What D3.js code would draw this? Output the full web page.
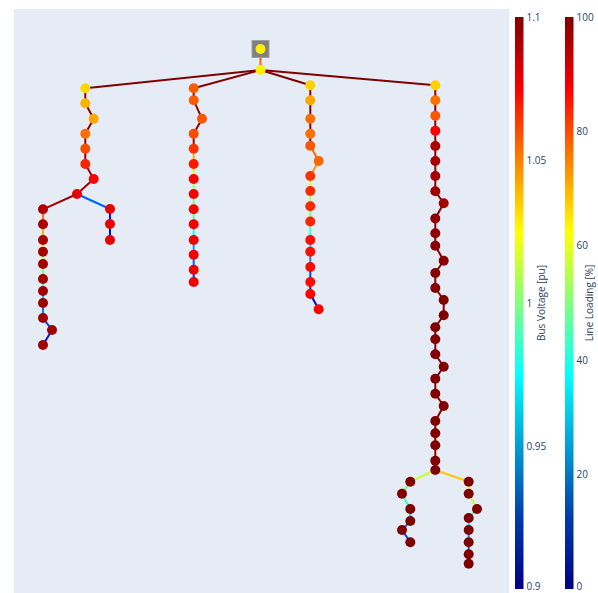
<!DOCTYPE html>
<html>
<head>
<meta charset="utf-8">
<script src="https://cdn.jsdelivr.net/npm/d3@7"></script>
<style>
  html, body { margin: 0; padding: 0; background: #fff; }
  svg { display: block; }
  text { font-family: "Open Sans", sans-serif; fill: #2a3f5f; }
</style>
</head>
<body>
<svg id="chart" width="598" height="593"></svg>
<script>
// Bus geodata (network units) and bus voltages [pu]
const busX = [
  21.75, 21.75,
  4.23, 4.23, 5.07, 4.23, 4.23, 4.23, 5.07, 3.4,
  0, 0, 0, 0, 0, 0, 0, 0, 0, 0.9, 0,
  6.7, 6.7, 6.7,
  15.07, 15.07, 15.9, 15.07, 15.07, 15.07, 15.07, 15.07, 15.07, 15.07, 15.07, 15.07, 15.07, 15.07,
  26.73, 26.73, 26.73, 26.73, 26.73, 27.57, 26.73, 26.73, 26.73, 26.73, 26.73, 26.73, 26.73, 26.73, 26.73, 27.57,
  39.23, 39.23, 39.23, 39.23, 39.23, 39.23, 39.23, 39.23, 40.07, 39.23, 39.23, 39.23, 40.07, 39.23, 39.23,
  40.07, 40.07, 39.23, 39.23, 39.23, 40.07, 39.23, 39.23, 40.07, 39.23, 39.23, 39.23, 39.23, 39.23,
  36.73, 35.9, 36.73, 36.73, 35.9, 36.73,
  42.57, 42.57, 43.4, 42.57, 42.57, 42.57, 42.57, 42.57
];
const busY = [
  0, 2.1,
  3.93, 5.43, 6.97, 8.47, 9.97, 11.5, 13.0, 14.5,
  16.03, 17.53, 19.1, 20.27, 21.5, 23.0, 24.2, 25.4, 26.9, 28.1, 29.6,
  16.0, 17.5, 19.1,
  3.93, 5.13, 6.97, 8.47, 9.97, 11.5, 13.0, 14.5, 16.03, 17.53, 19.1, 20.57, 22.07, 23.3,
  3.63, 5.13, 6.97, 8.47, 9.67, 11.2, 12.7, 14.2, 15.73, 17.25, 19.1, 20.27, 21.8, 23.3, 24.5, 26.03,
  3.63, 5.13, 6.67, 8.17, 9.7, 11.2, 12.7, 14.22, 15.43, 16.95, 18.43, 19.67, 21.17, 22.4, 23.9,
  25.1, 26.63, 27.83, 29.03, 30.53, 31.77, 32.97, 34.47, 35.7, 37.2, 38.43, 39.63, 41.17, 42.1,
  43.27, 44.47, 46.0, 47.2, 48.1, 49.33,
  43.27, 44.47, 46.0, 46.9, 48.1, 49.33, 50.53, 51.47
];
const busVm = [
  1.028, 1.028,
  1.033, 1.040, 1.042, 1.053, 1.060, 1.068, 1.075, 1.080,
  1.090, 1.091, 1.092, 1.092, 1.093, 1.093, 1.093, 1.094, 1.094, 1.094, 1.094,
  1.078, 1.078, 1.078,
  1.057, 1.057, 1.058, 1.060, 1.065, 1.070, 1.075, 1.076, 1.076, 1.077, 1.077, 1.077, 1.077, 1.077,
  1.034, 1.042, 1.053, 1.053, 1.058, 1.055, 1.065, 1.067, 1.067, 1.068, 1.072, 1.072, 1.073, 1.073, 1.074, 1.074,
  1.034, 1.053, 1.058, 1.075, 1.090, 1.092, 1.092, 1.093, 1.093, 1.097, 1.097, 1.098, 1.098, 1.099, 1.099,
  1.1, 1.1, 1.1, 1.1, 1.1, 1.1, 1.1, 1.1, 1.1, 1.1, 1.1, 1.1, 1.1, 1.1,
  1.1, 1.1, 1.1, 1.1, 1.1, 1.1,
  1.1, 1.1, 1.1, 1.1, 1.1, 1.1, 1.1, 1.1
];

// External grid connection bus
const extGridBus = [0];

// Branches (first entry is the transformer) and their loading [%]
const lineFrom = [
  0,
  1, 1, 1, 1,
  2, 3, 4, 5, 6, 7, 8, 9, 10, 11, 12, 13, 14, 15, 16, 17, 18, 19, 9, 21, 22,
  24, 25, 26, 27, 28, 29, 30, 31, 32, 33, 34, 35, 36,
  38, 39, 40, 41, 42, 43, 44, 45, 46, 47, 48, 49, 50, 51, 52,
  54, 55, 56, 57, 58, 59, 60, 61, 62, 63, 64, 65, 66, 67, 68, 69, 70, 71, 72, 73, 74, 75, 76, 77, 78, 79, 80, 81,
  82, 83, 84, 85, 86, 87,
  82, 89, 90, 91, 92, 93, 94, 95
];
const lineTo = [
  1,
  2, 24, 38, 54,
  3, 4, 5, 6, 7, 8, 9, 10, 11, 12, 13, 14, 15, 16, 17, 18, 19, 20, 21, 22, 23,
  25, 26, 27, 28, 29, 30, 31, 32, 33, 34, 35, 36, 37,
  39, 40, 41, 42, 43, 44, 45, 46, 47, 48, 49, 50, 51, 52, 53,
  55, 56, 57, 58, 59, 60, 61, 62, 63, 64, 65, 66, 67, 68, 69, 70, 71, 72, 73, 74, 75, 76, 77, 78, 79, 80, 81, 82,
  83, 84, 85, 86, 87, 88,
  89, 90, 91, 92, 93, 94, 95, 96
];
const lineLoading = [
  81,
  100, 100, 100, 100,
  99, 99, 98, 98, 98, 97, 97, 97, 78, 73, 64, 58, 50, 41, 31, 25, 18, 14, 22, 14, 12,
  99, 98, 98, 97, 73, 63, 56, 50, 45, 37, 28, 22, 16,
  99, 99, 98, 98, 80, 75, 64, 57, 50, 42, 32, 26, 19, 13, 10,
  99, 99, 99, 99, 99, 99, 99, 99, 99, 99, 99, 99, 99, 99, 99, 99, 99, 99, 99, 99, 99, 99, 99, 99, 99, 99, 99, 99,
  59, 49, 42, 32, 23, 18,
  70, 64, 58, 43, 34, 27, 21, 10
];

// Colour bar settings
const vmRange = [0.9, 1.1];
const vmTicks = [0.9, 0.95, 1, 1.05, 1.1];
const vmTickLabels = ["0.9", "0.95", "1", "1.05", "1.1"];
const loadRange = [0, 100];
const loadTicks = [0, 20, 40, 60, 80, 100];
const loadTickLabels = ["0", "20", "40", "60", "80", "100"];
const vmTitle = "Bus Voltage [pu]";
const loadTitle = "Line Loading [%]";

// Plotly "Jet" colour scale (bus markers and colour bars)
const plotlyJet = [
  [0, "rgb(0,0,131)"], [0.125, "rgb(0,60,170)"], [0.375, "rgb(5,255,255)"],
  [0.625, "rgb(255,255,0)"], [0.875, "rgb(250,0,0)"], [1, "rgb(128,0,0)"]
];
const jetScale = d3.scaleLinear()
  .domain(plotlyJet.map(d => d[0]))
  .range(plotlyJet.map(d => d[1]))
  .interpolate(d3.interpolateRgb)
  .clamp(true);

// Matplotlib "jet" (line colours)
function mplJet(t) {
  t = Math.max(0, Math.min(1, t));
  const seg = (pts) => d3.scaleLinear().domain(pts.map(p => p[0])).range(pts.map(p => p[1])).clamp(true)(t);
  const r = seg([[0, 0], [0.35, 0], [0.66, 1], [0.89, 1], [1, 0.5]]);
  const g = seg([[0, 0], [0.125, 0], [0.375, 1], [0.64, 1], [0.91, 0], [1, 0]]);
  const b = seg([[0, 0.5], [0.11, 1], [0.34, 1], [0.65, 0], [1, 0]]);
  return d3.rgb(r * 255, g * 255, b * 255).toString();
}

const svg = d3.select("#chart");
const W = 598, H = 593;
const plot = { left: 14, top: 9, right: 509, bottom: 593 };

const x = d3.scaleLinear().domain([-2.9, 46.6]).range([plot.left, plot.right]);
const y = d3.scaleLinear().domain([-4, 54.4]).range([plot.top, plot.bottom]);
const vmNorm = d3.scaleLinear().domain(vmRange).range([0, 1]);
const loadNorm = d3.scaleLinear().domain(loadRange).range([0, 1]);

svg.append("rect")
  .attr("x", plot.left).attr("y", plot.top)
  .attr("width", plot.right - plot.left).attr("height", plot.bottom - plot.top)
  .attr("fill", "#E5ECF6");

const lines = lineFrom.map((f, i) => ({ f, t: lineTo[i], load: lineLoading[i] }));
svg.append("g").selectAll("line").data(lines).join("line")
  .attr("x1", d => x(busX[d.f])).attr("y1", d => y(busY[d.f]))
  .attr("x2", d => x(busX[d.t])).attr("y2", d => y(busY[d.t]))
  .attr("stroke", d => mplJet(loadNorm(d.load)))
  .attr("stroke-width", 2)
  .attr("stroke-linecap", "round");

svg.append("g").selectAll("rect").data(extGridBus).join("rect")
  .attr("x", d => x(busX[d]) - 8.5).attr("y", d => y(busY[d]) - 8.5)
  .attr("width", 17).attr("height", 17)
  .attr("fill", "#808080")
  .attr("stroke", "#a0a0a0").attr("stroke-width", 1);

const buses = busX.map((bx, i) => ({ i, vm: busVm[i] }));
svg.append("g").selectAll("circle").data(buses).join("circle")
  .attr("cx", d => x(busX[d.i])).attr("cy", d => y(busY[d.i]))
  .attr("r", 5)
  .attr("fill", d => jetScale(vmNorm(d.vm)));

// Colour bars
const defs = svg.append("defs");
const grad = defs.append("linearGradient").attr("id", "jetGrad")
  .attr("x1", 0).attr("y1", 1).attr("x2", 0).attr("y2", 0);
grad.selectAll("stop").data(plotlyJet).join("stop")
  .attr("offset", d => d[0]).attr("stop-color", d => d[1]);

const barTop = 17, barBottom = 589, barW = 8.5;

function colorBar(x0, range, ticks, labels, title, titleX) {
  const s = d3.scaleLinear().domain(range).range([barBottom, barTop]);
  const g = svg.append("g");
  g.append("rect")
    .attr("x", x0).attr("y", barTop)
    .attr("width", barW).attr("height", barBottom - barTop)
    .attr("fill", "url(#jetGrad)");
  g.selectAll("text.tick").data(ticks).join("text")
    .attr("class", "tick")
    .attr("x", x0 + barW + 3)
    .attr("y", d => Math.min(s(d), H - 7))
    .attr("dy", "0.35em")
    .attr("font-size", 10)
    .text((d, i) => labels[i]);
  g.append("text")
    .attr("transform", `translate(${titleX},${(barTop + barBottom) / 2}) rotate(-90)`)
    .attr("text-anchor", "middle")
    .attr("dy", "0.35em")
    .attr("font-size", 10)
    .text(title);
}

colorBar(515, vmRange, vmTicks, vmTickLabels, vmTitle, 541.5);
colorBar(565, loadRange, loadTicks, loadTickLabels, loadTitle, 589);
</script>
</body>
</html>
